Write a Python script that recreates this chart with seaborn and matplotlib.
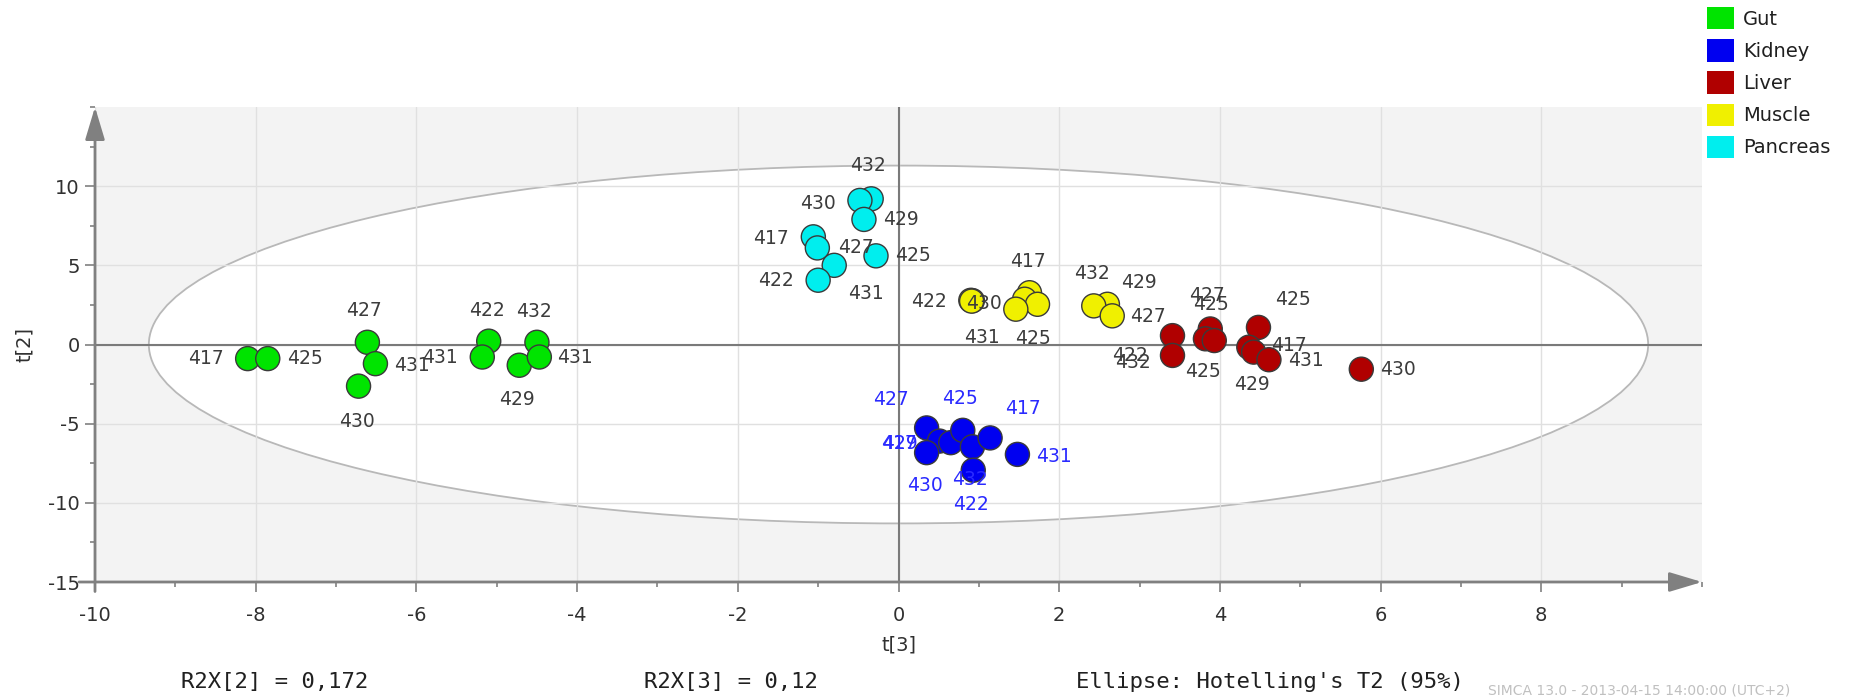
import numpy as np
import pandas as pd
import matplotlib
matplotlib.use("Agg")
import matplotlib.pyplot as plt
from matplotlib.patches import Ellipse, Patch
from matplotlib.ticker import MultipleLocator
import seaborn as sns

gut_t3 = [-8.10, -7.85, -6.61, -6.51, -6.72, -5.10, -5.18, -4.72, -4.50, -4.47]
gut_t2 = [-0.89, -0.89, 0.14, -1.21, -2.63, 0.21, -0.79, -1.31, 0.14, -0.79]
gut_ids = ["417", "425", "427", "431", "430", "422", "431", "429", "432", "431"]

kidney_t3 = [0.35, 0.51, 0.35, 0.65, 0.80, 0.92, 1.14, 1.48, 0.93]
kidney_t2 = [-5.27, -6.10, -6.83, -6.20, -5.42, -6.46, -5.90, -6.94, -7.94]
kidney_ids = ["427", "429", "430", "417", "425", "432", "417", "431", "422"]

liver_t3 = [3.41, 3.41, 3.88, 3.82, 3.93, 4.48, 4.36, 4.42, 4.61, 5.76]
liver_t2 = [0.56, -0.69, 0.98, 0.36, 0.25, 1.08, -0.17, -0.48, -0.96, -1.56]
liver_ids = ["432", "422", "427", "425", "425", "425", "417", "429", "431", "430"]

muscle_t3 = [0.90, 0.92, 0.91, 1.63, 1.57, 1.73, 1.46, 2.60, 2.43, 2.66]
muscle_t2 = [2.79, 2.77, 2.74, 3.27, 2.86, 2.54, 2.23, 2.54, 2.44, 1.81]
muscle_ids = ["422", "430", "431", "417", "", "425", "", "429", "432", "427"]

pancreas_t3 = [-0.34, -0.48, -0.43, -1.06, -1.01, -0.80, -1.00, -0.28]
pancreas_t2 = [9.20, 9.10, 7.90, 6.80, 6.10, 5.00, 4.06, 5.60]
pancreas_ids = ["432", "430", "429", "417", "427", "431", "422", "425"]

tissues = ["Gut", "Kidney", "Liver", "Muscle", "Pancreas"]
colors = ["#00e400", "#0000f0", "#b00000", "#f0f000", "#00eeee"]

# where each sample label sits relative to its marker (pixels)
label_offsets = {
    "Gut": [(-42, 0), (37, 0), (-3, 32), (37, -2), (-2, -35), (-2, 31),
            (-42, 0), (-2, -34), (-3, 31), (36, 0)],
    "Kidney": [(-36, 28), (-40, -2), (-2, -33), (-52, -1), (-3, 32), (-2, -33),
               (33, 29), (37, -2), (-2, -34)],
    "Liver": [(-40, -27), (-43, 0), (-3, 33), (-2, -33), (-3, 36), (34, 28),
              (40, 2), (-2, -32), (37, -1), (37, 0)],
    "Muscle": [(-42, -1), (12, -3), (10, -36), (-2, 31), (0, 0), (-5, -34),
               (0, 0), (32, 22), (-2, 32), (36, -1)],
    "Pancreas": [(-3, 33), (-42, -3), (37, 0), (-42, -2), (39, 0), (32, -28),
                 (-42, 0), (37, 0)],
}

groups = {
    "Gut": (gut_t3, gut_t2, gut_ids),
    "Kidney": (kidney_t3, kidney_t2, kidney_ids),
    "Liver": (liver_t3, liver_t2, liver_ids),
    "Muscle": (muscle_t3, muscle_t2, muscle_ids),
    "Pancreas": (pancreas_t3, pancreas_t2, pancreas_ids),
}

rows = []
for tissue, (xs, ys, ids) in groups.items():
    for x, y, s in zip(xs, ys, ids):
        rows.append({"Tissue": tissue, "t3": x, "t2": y, "Sample": s})
df = pd.DataFrame(rows)

sns.set_style("white")
plt.rcParams["font.family"] = ["DejaVu Sans"]
plt.rcParams["axes.unicode_minus"] = False

fig = plt.figure(figsize=(18.6, 6.97), dpi=100)
ax = fig.add_axes([95 / 1860, 1 - 582 / 697, (1702 - 95) / 1860, (582 - 107) / 697])
ax.set_facecolor("#f3f3f3")
ax.set_xlim(-10, 10)
ax.set_ylim(-15, 15)

# Hotelling's T2 ellipse
ax.add_patch(Ellipse((0, 0), 2 * 9.33, 2 * 11.3, facecolor="white",
                     edgecolor="#b8b8b8", lw=1.3, zorder=0.3))
ax.set_axisbelow(True)
ax.grid(True, color="#e0e0e0", lw=1)
ax.axhline(0, color="#7a7a7a", lw=1.5, zorder=0.8)
ax.axvline(0, color="#7a7a7a", lw=1.5, zorder=0.8)

sns.scatterplot(data=df, x="t3", y="t2", hue="Tissue", hue_order=tissues,
                palette=dict(zip(tissues, colors)), s=300, edgecolor="#3a3a3a",
                linewidth=1, legend=False, ax=ax, zorder=3)

for tissue, (xs, ys, ids) in groups.items():
    tcol = "#2a2aff" if tissue == "Kidney" else "#3c3c3c"
    for (x, y, s), (dx, dy) in zip(zip(xs, ys, ids), label_offsets[tissue]):
        if s:
            ax.annotate(s, (x, y), xytext=(dx, dy), textcoords="offset pixels",
                        ha="center", va="center", fontsize=13.5, color=tcol, zorder=4)

for sp in ax.spines.values():
    sp.set_visible(False)

arrow = dict(arrowstyle="-|>,head_length=1.0,head_width=0.3", color="#808080",
             lw=2, shrinkA=0, shrinkB=0, mutation_scale=20)
ax.annotate("", xy=(-10, 15), xytext=(-10, -15.6), arrowprops=arrow,
            annotation_clip=False, zorder=5)
ax.annotate("", xy=(10, -15), xytext=(-10.2, -15), arrowprops=arrow,
            annotation_clip=False, zorder=5)

ax.xaxis.set_major_locator(MultipleLocator(2))
ax.xaxis.set_minor_locator(MultipleLocator(1))
ax.yaxis.set_major_locator(MultipleLocator(5))
ax.yaxis.set_minor_locator(MultipleLocator(2.5))
ax.set_xticks(np.arange(-10, 9, 2))
ax.set_yticks(np.arange(-15, 11, 5))
ax.tick_params(axis="both", which="major", direction="out", length=7, width=1.2,
               color="#808080", labelsize=14, labelcolor="#303030")
ax.tick_params(axis="both", which="minor", direction="out", length=3.5, width=1.2,
               color="#808080")
ax.tick_params(axis="x", which="major", pad=10)
ax.tick_params(axis="y", which="major", pad=4)
ax.tick_params(left=True, bottom=True, which="both")

ax.set_xlabel("t[3]", fontsize=14, color="#303030", labelpad=8)
ax.set_ylabel("t[2]", fontsize=14, color="#303030", labelpad=10)

handles = [Patch(facecolor=c, edgecolor="none", label=t) for t, c in zip(tissues, colors)]
fig.legend(handles=handles, loc="upper left", bbox_to_anchor=(1707 / 1860, 1 - 7 / 697),
           frameon=False, fontsize=14, handlelength=1.4, handleheight=1.4,
           labelspacing=0.5, handletextpad=0.45, borderpad=0, borderaxespad=0,
           labelcolor="#202020")

mono = dict(family="DejaVu Sans Mono", fontsize=16, color="#202020", va="center")
fig.text(181 / 1860, 1 - 682 / 697, "R2X[2] = 0,172", **mono)
fig.text(644 / 1860, 1 - 682 / 697, "R2X[3] = 0,12", **mono)
fig.text(1076 / 1860, 1 - 682 / 697, "Ellipse: Hotelling's T2 (95%)", **mono)
fig.text(1488 / 1860, 1 - 691 / 697, "SIMCA 13.0 - 2013-04-15 14:00:00 (UTC+2)",
         fontsize=10, color="#c0c0c0", va="center")

fig.savefig("out.png", dpi=100)
